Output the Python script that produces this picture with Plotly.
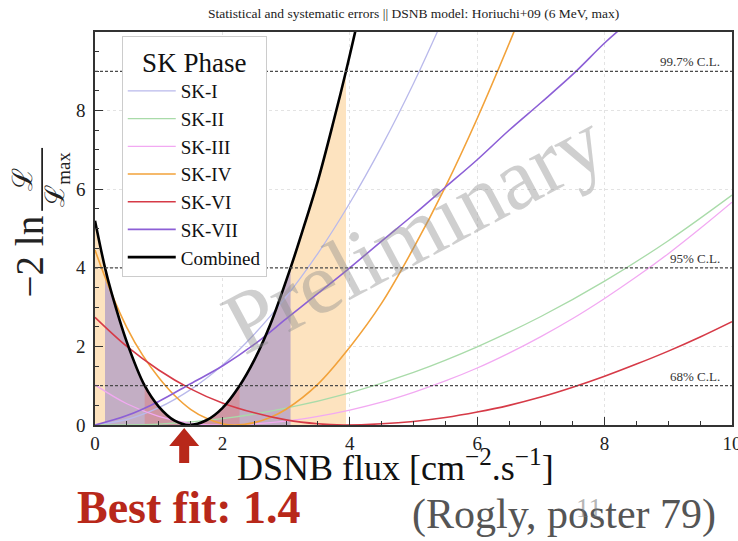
import plotly.graph_objects as go

# ---- likelihood profiles: -2 ln(L/Lmax) versus DSNB flux ----
flux_combined = [0, 0.157, 0.25, 0.5, 0.78, 1.0, 1.25, 1.48, 1.75, 2.0, 2.27, 2.5, 2.75, 3.07, 3.25, 3.5, 3.75, 3.94, 4.15]
dchi2_combined = [5.2, 4.0, 3.42, 2.11, 1.0, 0.47, 0.11, 0.0, 0.12, 0.43, 1.0, 1.65, 2.55, 4.0, 4.9, 6.22, 7.76, 9.0, 10.47]

flux_sk1 = [0, 0.5, 1, 1.5, 2, 2.5, 3, 3.5, 4, 4.5, 5, 5.5]
dchi2_sk1 = [0.01, 0.14, 0.44, 0.90, 1.52, 2.31, 3.26, 4.37, 5.65, 7.09, 8.69, 10.46]

flux_sk2 = [0, 1, 2, 3, 4, 5, 6, 7, 8, 9, 10]
dchi2_sk2 = [0.01, 0.02, 0.16, 0.43, 0.82, 1.34, 1.99, 2.76, 3.66, 4.69, 5.85]

flux_sk3 = [0, 0.5, 1, 1.5, 1.9, 2.5, 3, 3.5, 4, 4.5, 5, 5.5, 6, 6.5, 7, 7.5, 8, 8.5, 9, 9.5, 10]
dchi2_sk3 = [1.02, 0.54, 0.22, 0.04, 0.0, 0.03, 0.10, 0.22, 0.38, 0.58, 0.83, 1.12, 1.45, 1.83, 2.25, 2.71, 3.22, 3.77, 4.36, 5.0, 5.67]

flux_sk4 = [0, 0.25, 0.5, 0.75, 1, 1.25, 1.5, 1.75, 2, 2.2, 2.5, 2.75, 3, 3.5, 4, 4.5, 5, 5.5, 6, 6.5, 6.7]
dchi2_sk4 = [4.45, 3.38, 2.48, 1.77, 1.21, 0.75, 0.40, 0.17, 0.03, 0.0, 0.06, 0.19, 0.40, 1.04, 1.98, 3.1, 4.5, 6.06, 7.8, 9.7, 10.5]

flux_sk6 = [0, 0.5, 1, 1.5, 2, 2.5, 3, 3.5, 3.9, 4.5, 5, 5.5, 6, 6.5, 7, 7.5, 8, 8.5, 9, 9.5, 10]
dchi2_sk6 = [2.74, 2.0, 1.40, 0.92, 0.56, 0.31, 0.13, 0.03, 0.0, 0.03, 0.09, 0.19, 0.33, 0.5, 0.71, 0.96, 1.24, 1.55, 1.88, 2.24, 2.63]

flux_sk7 = [0, 0.5, 1, 1.5, 2, 2.5, 3, 3.5, 4, 4.5, 5, 5.5, 6, 6.5, 7, 7.5, 8, 8.3]
dchi2_sk7 = [0, 0.24, 0.6, 1.05, 1.5, 2.05, 2.7, 3.35, 4.0, 4.68, 5.35, 6.05, 6.75, 7.5, 8.2, 8.92, 9.72, 10.15]

# confidence levels and the combined intervals they define
cl_levels = [1, 4, 9]
cl_labels = ["68% C.L.", "95% C.L.", "99.7% C.L."]
ci_lo = [0.78, 0.157, 0.0]
ci_hi = [2.27, 3.07, 3.94]
band_colors = ["#cf96a3", "#c3aec4", "#fde3bf"]

best_fit = 1.4

SERIF = "Liberation Serif"

phases = [
    ("SK-I", flux_sk1, dchi2_sk1, "#b9b9eb", 1.3),
    ("SK-II", flux_sk2, dchi2_sk2, "#a9dba9", 1.3),
    ("SK-III", flux_sk3, dchi2_sk3, "#f2a9f2", 1.3),
    ("SK-IV", flux_sk4, dchi2_sk4, "#f2a23a", 1.6),
    ("SK-VI", flux_sk6, dchi2_sk6, "#d63a47", 1.6),
    ("SK-VII", flux_sk7, dchi2_sk7, "#8c5fd6", 1.6),
]

fig = go.Figure()

# shaded areas under the combined curve, widest interval first
for i in reversed(range(len(cl_levels))):
    lo, hi = ci_lo[i], ci_hi[i]
    xs = [x for x in flux_combined if lo <= x <= hi]
    ys = [y for x, y in zip(flux_combined, dchi2_combined) if lo <= x <= hi]
    fig.add_trace(go.Scatter(
        x=xs, y=ys, mode="lines", fill="tozeroy",
        fillcolor=band_colors[i], line=dict(width=0, shape="spline"),
        showlegend=False, hoverinfo="skip"))

for name, xs, ys, color, width in phases:
    fig.add_trace(go.Scatter(
        x=xs, y=ys, mode="lines", name=name,
        line=dict(color=color, width=width, shape="spline")))

fig.add_trace(go.Scatter(
    x=flux_combined, y=dchi2_combined, mode="lines", name="Combined",
    line=dict(color="black", width=2.6, shape="spline")))

shapes = []
annotations = []
for lvl, lab in zip(cl_levels, cl_labels):
    shapes.append(dict(type="line", xref="paper", yref="y", x0=0, x1=1, y0=lvl, y1=lvl,
                       line=dict(color="#4a4a4a", width=1.2, dash="3px,2px"), layer="above"))
    annotations.append(dict(text=lab, xref="paper", yref="y", x=0.984, y=lvl,
                            xanchor="right", yanchor="bottom", showarrow=False,
                            font=dict(family=SERIF, size=13, color="#333")))

# red arrow under the best-fit value
shapes.append(dict(type="path", xref="x", yref="paper",
                   xsizemode="pixel", ysizemode="pixel", xanchor=best_fit, yanchor=0,
                   path="M0,-3 L15,-21 L5,-21 L5,-38 L-5,-38 L-5,-21 L-15,-21 Z",
                   fillcolor="#b8281a", line=dict(width=0), layer="above"))

# y-axis title: -2 ln L/Lmax written as a rotated fraction
shapes.append(dict(type="line", xref="paper", yref="paper",
                   x0=-0.083, x1=-0.083, y0=0.545, y1=0.705,
                   line=dict(color="#222", width=1.8)))


def note(text, x, y, size, color="#222", angle=0, xanchor="center", bold=False):
    annotations.append(dict(
        text=f"<b>{text}</b>" if bold else text, xref="paper", yref="paper",
        x=x, y=y, xanchor=xanchor, yanchor="middle", textangle=angle, showarrow=False,
        font=dict(family=SERIF, size=size, color=color)))


note("−2 ln", -0.103, 0.43, 39, angle=-90)
note("ℒ", -0.114, 0.625, 28, angle=-90)
note("ℒ<sub>max</sub>", -0.059, 0.625, 27, angle=-90)
note("DSNB flux [cm<sup>−2</sup>.s<sup>−1</sup>]", 0.472, -0.104, 36, color="#111")
note("Statistical and systematic errors || DSNB model: Horiuchi+09 (6 MeV, max)",
     0.5, 1.046, 13.5)
note("Best fit: 1.4", -0.032, -0.209, 46, color="#b8281a", xanchor="left", bold=True)
note("(Rogly, poster 79)", 0.494, -0.229, 42, color="#555", xanchor="left")
note("11", 0.775, -0.21, 27, color="rgba(120,120,120,0.55)")

annotations.append(dict(text="Preliminary", xref="x", yref="y", x=5.0, y=4.9, textangle=-28,
                        showarrow=False,
                        font=dict(family=SERIF, size=88, color="rgba(140,140,140,0.42)")))

axis_common = dict(
    showline=True, mirror=True, linecolor="#333", linewidth=1.5,
    ticks="inside", ticklen=8, tickcolor="#333", tickwidth=1.2,
    showgrid=True, gridcolor="#e3e3e3", griddash="dot", gridwidth=1,
    zeroline=False, tickfont=dict(family=SERIF, size=19, color="#222"),
    ticklabeloverflow="allow", automargin=False,
    minor=dict(ticks="inside", ticklen=4, tickcolor="#333", dtick=0.5, showgrid=False),
)

fig.update_layout(
    width=738, height=541,
    margin=dict(l=95, r=6, t=32, b=116, autoexpand=False),
    paper_bgcolor="white", plot_bgcolor="white",
    xaxis=dict(range=[0, 10], tickvals=[0, 2, 4, 6, 8, 10], **axis_common),
    yaxis=dict(range=[0, 10], tickvals=[0, 2, 4, 6, 8], ticklabelstandoff=4, **axis_common),
    legend=dict(x=0.042, y=0.99, xanchor="left", yanchor="top",
                bgcolor="white", bordercolor="#cccccc", borderwidth=1,
                itemwidth=48, entrywidth=112,
                font=dict(family=SERIF, size=19, color="#111"),
                title=dict(text="SK Phase", side="top center",
                           font=dict(family=SERIF, size=27, color="#111"))),
    shapes=shapes, annotations=annotations,
    showlegend=True,
)

fig.write_html("out.html")
